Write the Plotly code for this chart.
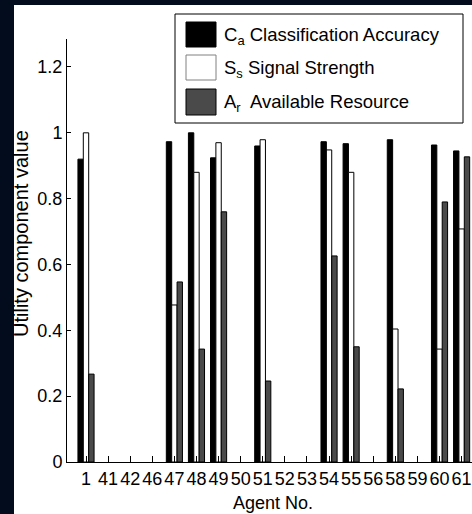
import plotly.graph_objects as go

agents = ["1", "41", "42", "46", "47", "48", "49", "50", "51", "52", "53",
          "54", "55", "56", "58", "59", "60", "61"]
classification_accuracy = [0.92, 0, 0, 0, 0.973, 1.0, 0.924, 0, 0.96, 0, 0,
                           0.973, 0.967, 0, 0.979, 0, 0.963, 0.945]
signal_strength = [1.0, 0, 0, 0, 0.477, 0.88, 0.97, 0, 0.979, 0, 0,
                   0.948, 0.88, 0, 0.404, 0, 0.343, 0.708]
available_resource = [0.267, 0, 0, 0, 0.547, 0.343, 0.76, 0, 0.246, 0, 0,
                      0.626, 0.35, 0, 0.222, 0, 0.79, 0.927]

series_names = ["C<sub>a</sub> Classification Accuracy",
                "S<sub>s</sub> Signal Strength",
                "A<sub>r</sub>&nbsp; Available Resource"]
series_values = [classification_accuracy, signal_strength, available_resource]
fills = ["#000000", "#ffffff", "#4a4a4a"]
swatch_lines = ["#000000", "#808080", "#000000"]

W, H = 472, 514
ML, MR, MT, MB = 67, 0, 39, 52
PW, PH = W - ML - MR, H - MT - MB

def px(x):
    return (x - ML) / PW

def py(y):
    return (H - MB - y) / PH

FONT = "Liberation Sans, Arial, Helvetica, sans-serif"

fig = go.Figure()
for name, vals, col in zip(series_names, series_values, fills):
    fig.add_trace(go.Bar(
        x=agents, y=[v if v else None for v in vals], name=name,
        marker=dict(color=col, line=dict(color="#000000", width=1)),
        showlegend=False,
    ))

shapes = [
    dict(type="rect", xref="paper", yref="paper", layer="below",
         x0=px(14), x1=px(W + 5), y0=py(H + 5), y1=py(5),
         fillcolor="#ffffff", line=dict(width=0)),
    dict(type="rect", xref="paper", yref="paper",
         x0=px(175), x1=px(463), y0=py(123), y1=py(14),
         fillcolor="#ffffff", line=dict(color="#000000", width=1)),
]
annotations = []
rows = [(22, 47), (55, 80), (89, 115)]
for (t, b), name, col, lc in zip(rows, series_names, fills, swatch_lines):
    shapes.append(dict(type="rect", xref="paper", yref="paper",
                       x0=px(186), x1=px(216), y0=py(b), y1=py(t),
                       fillcolor=col, line=dict(color=lc, width=1)))
    annotations.append(dict(xref="paper", yref="paper", x=px(222),
                            y=py((t + b) / 2 + 1), xanchor="left",
                            yanchor="middle", text=name, showarrow=False,
                            font=dict(size=18.5, color="#000000", family=FONT)))

annotations.append(dict(xref="paper", yref="paper", x=px(21), y=py(234),
                        xanchor="center", yanchor="middle", textangle=-90,
                        text="Utility component value", showarrow=False,
                        font=dict(size=20, color="#000000", family=FONT)))
annotations.append(dict(xref="paper", yref="paper", x=px(273), y=py(503),
                        xanchor="center", yanchor="middle",
                        text="Agent No.", showarrow=False,
                        font=dict(size=18, color="#000000", family=FONT)))

fig.update_layout(
    width=W, height=H,
    margin=dict(l=ML, r=MR, t=MT, b=MB),
    paper_bgcolor="#020c1c", plot_bgcolor="#ffffff",
    barmode="group", bargap=0.27, bargroupgap=0,
    font=dict(family=FONT, size=18, color="#000000"),
    shapes=shapes, annotations=annotations,
    xaxis=dict(type="category", range=[-0.86, 17.47],
               showline=True, linecolor="#000000", linewidth=1,
               ticks="inside", ticklen=6, tickcolor="#000000",
               showgrid=False, zeroline=False,
               tickfont=dict(size=18, color="#000000")),
    yaxis=dict(range=[0, 1.285], dtick=0.2, tick0=0,
               showline=True, linecolor="#000000", linewidth=1,
               ticks="inside", ticklen=4, tickcolor="#000000",
               showgrid=False, zeroline=False,
               tickfont=dict(size=18, color="#000000")),
)

fig.write_html("out.html")
